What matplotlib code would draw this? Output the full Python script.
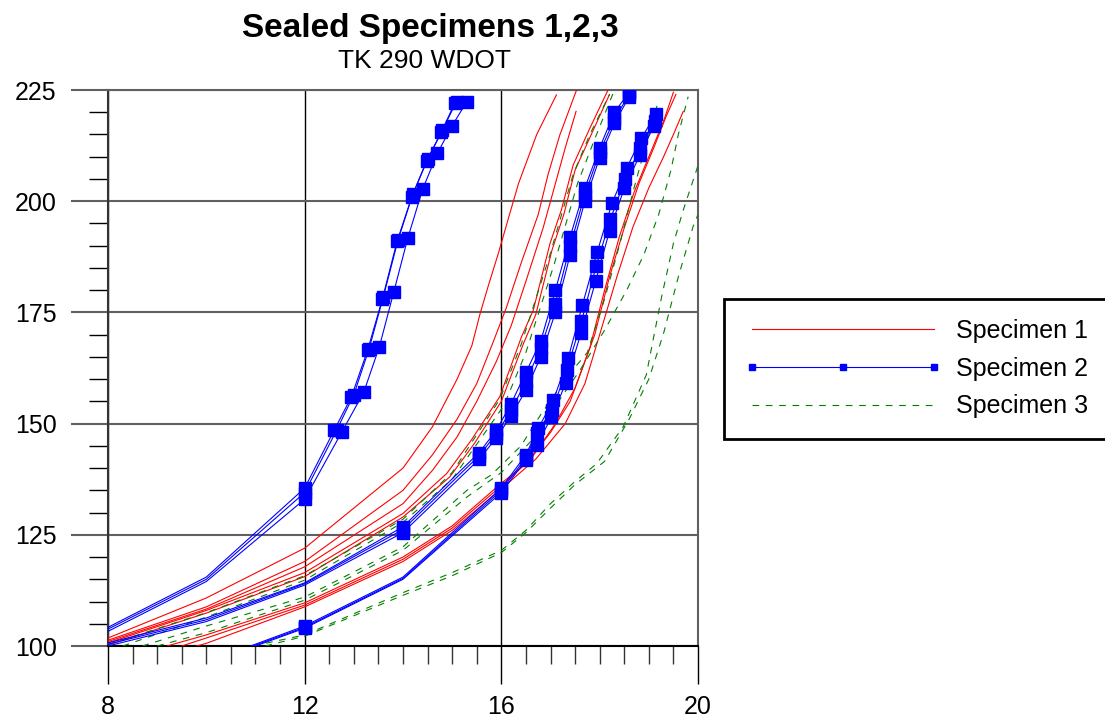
import numpy as np
import matplotlib
matplotlib.use("Agg")
import matplotlib.pyplot as plt

plt.rcParams['font.family'] = ['Liberation Sans', 'DejaVu Sans']

title = "Sealed Specimens 1,2,3"
subtitle = "TK 290 WDOT"
labels = ["Specimen 1", "Specimen 2", "Specimen 3"]

# Specimen 1 (red)
r1_x = [8, 10, 12, 14, 14.6, 15.1, 15.4, 15.57, 15.73, 15.94, 16.14, 16.35, 16.72, 17.12]
r1_y = [101.8, 110.8, 122, 140, 149.3, 160, 167.5, 174.8, 180.8, 188.3, 196, 204, 215, 223.9]
r2_x = [8, 10, 12, 14, 14.6, 15.1, 15.5, 15.85, 16.1, 16.4, 16.75, 16.95, 17.19, 17.53]
r2_y = [101.3, 108.8, 119, 135, 143, 151, 159, 168.8, 176, 186, 197, 206, 214.9, 225]
r3_x = [8, 10, 12, 14, 14.6, 15.1, 15.5, 15.9, 16.2, 16.5, 16.85, 17.1, 17.3, 17.52]
r3_y = [101.0, 108.3, 117.8, 132, 139.5, 147, 155, 164, 172, 182, 194, 204, 212, 220.2]
r4_x = [8, 10, 12, 14, 14.89, 15.39, 15.97, 16.41, 16.65, 16.99, 17.22, 17.46, 17.8, 18.17]
r4_y = [100.7, 108, 116.5, 129.8, 138.8, 146.3, 156.1, 169.5, 175.5, 190.5, 198, 208.1, 216.4, 225]
r5_x = [8, 10, 12, 14, 14.95, 15.45, 16.0, 16.45, 16.7, 17.03, 17.27, 17.5, 17.85, 18.2]
r5_y = [100.2, 107.4, 115.6, 129, 138, 145.5, 155, 168, 174.5, 189, 197, 207, 215.5, 224]
r6_x = [9.2, 10, 12, 14, 15, 16, 16.5, 17.0, 17.4, 17.8, 18.1, 18.4, 18.7, 19.0, 19.3, 19.5]
r6_y = [100, 102.5, 109.7, 120, 127, 136.6, 141, 148, 155, 167, 180, 192, 202, 210, 218, 224.5]
r7_x = [9.5, 10, 12, 14, 15, 16, 16.6, 17.1, 17.5, 17.9, 18.2, 18.5, 18.8, 19.1, 19.35, 19.55]
r7_y = [100, 101.8, 109.2, 119.5, 126.5, 136, 142, 150, 158, 170, 183, 194, 204, 212, 219, 224]
r8_x = [9.8, 10, 12, 14, 15, 16, 16.7, 17.3, 17.7, 18.0, 18.35, 18.68, 19.0, 19.3, 19.5, 19.7]
r8_y = [100, 100.6, 108.8, 119, 126, 135.3, 142, 150, 159, 170, 183, 194.3, 203, 210, 215, 220.2]

# Specimen 2 (blue, square markers)
a1_x = [8, 10, 12, 12.6, 12.95, 13.28, 13.58, 13.88, 14.18, 14.48, 14.78, 15.05]
a1_y = [104.2, 115.5, 135.5, 148.5, 156, 166.5, 178, 191, 201, 209, 215.5, 222]
a2_x = [8, 10, 12, 12.65, 13.0, 13.31, 13.6, 13.9, 14.2, 14.5, 14.8, 15.09]
a2_y = [103.8, 115, 134.5, 148.5, 156.5, 166.8, 178.5, 191.3, 201.6, 209.4, 216, 222.4]
a3_x = [8, 10, 12, 12.75, 13.2, 13.52, 13.81, 14.1, 14.4, 14.7, 15.0, 15.3]
a3_y = [103.3, 114.5, 133, 148, 157, 167.3, 179.5, 191.8, 202.7, 210.8, 217, 222.4]
b_x = [8, 10, 12, 14, 15.55, 15.9, 16.2, 16.5, 16.8, 17.1, 17.4, 17.7, 18.0, 18.3, 18.6]
b1_y = [100.7, 106.3, 114.2, 126.8, 143.5, 148.5, 154.5, 161.5, 168.5, 180, 192, 203, 212, 220, 224.5]
b2_y = [100.4, 105.9, 114, 126.2, 142.8, 147.7, 153, 159.5, 167, 177, 190, 201.5, 211, 218.5, 224]
b3_y = [100, 105.5, 113.7, 125.5, 142, 146.8, 151.8, 157.5, 165, 175, 188, 200, 209.8, 217.5, 223.5]
c1_x = [10.9, 12, 14, 16, 16.5, 16.75, 17.06, 17.36, 17.65, 17.95, 18.25, 18.55, 18.85, 19.15]
c1_y = [100, 104.5, 115.5, 135.5, 143, 148.9, 155.3, 164.7, 176.7, 188.6, 199.5, 207.5, 214.2, 219.7]
c2_x = [10.95, 12, 14, 16, 16.5, 16.72, 17.03, 17.33, 17.63, 17.93, 18.22, 18.52, 18.83, 19.12]
c2_y = [100, 104.2, 115.2, 135, 142.3, 147.8, 153, 162, 173, 185.5, 196, 205, 212, 218]
c3_x = [11.0, 12, 14, 16, 16.5, 16.72, 17.02, 17.31, 17.62, 17.92, 18.2, 18.5, 18.82, 19.1]
c3_y = [100, 104, 115, 134.5, 141.8, 145.2, 151.4, 159.1, 170.3, 182.1, 193.3, 202.9, 210.4, 216.9]

# Specimen 3 (green dashed)
g1_x = [8, 10, 12, 14, 15, 15.97, 16.41, 16.99, 17.46, 17.8, 18.2]
g1_y = [100.3, 107.5, 115.8, 128.5, 139, 155.5, 168, 188, 206, 215, 224]
g2_x = [8.3, 10, 12, 14, 15, 16.05, 16.5, 17.08, 17.55, 17.9, 18.3]
g2_y = [100, 106.5, 114.8, 127.8, 137.5, 154, 166, 186, 204, 214, 225]
g3_x = [8.7, 10, 12, 14, 15.3, 15.8, 16.4, 16.8, 17.3, 17.75, 18.1, 18.4, 18.7, 18.95, 19.2]
g3_y = [100, 104.5, 111, 122.3, 135, 138.5, 145, 152, 160, 166, 178, 190, 203, 213, 222.7]
g4_x = [9.0, 10, 12, 14, 15.3, 16.0, 16.6, 17.1, 17.6, 18.1, 18.55, 18.9, 19.2, 19.45, 19.6, 19.8]
g4_y = [100, 103, 110.3, 121.5, 133.5, 139, 146, 154, 162, 171, 180, 188, 197, 207, 215, 223.5]
g5_x = [10.95, 12, 14, 15, 16, 16.5, 17, 17.5, 17.94, 18.48, 18.75, 18.95, 19.09, 19.26, 19.5, 19.7, 20.0]
g5_y = [100, 102.5, 112, 116.5, 121.5, 126, 132, 137, 141, 149.3, 156, 161, 169, 178.5, 190.5, 198, 208]
g6_x = [11.2, 12, 14, 15, 16, 16.5, 17, 17.5, 18.1, 18.6, 19.0, 19.3, 19.6, 19.9, 20.0]
g6_y = [100, 102.2, 111.4, 115.8, 121, 125.5, 131, 136.3, 141.5, 151, 160, 170.3, 183, 194.3, 197]

spec1 = [(r1_x, r1_y), (r2_x, r2_y), (r3_x, r3_y), (r4_x, r4_y),
         (r5_x, r5_y), (r6_x, r6_y), (r7_x, r7_y), (r8_x, r8_y)]
spec2 = [(a1_x, a1_y, 2), (a2_x, a2_y, 2), (a3_x, a3_y, 2),
         (b_x, b1_y, 3), (b_x, b2_y, 3), (b_x, b3_y, 3),
         (c1_x, c1_y, 3), (c2_x, c2_y, 3), (c3_x, c3_y, 3)]
spec3 = [(g1_x, g1_y), (g2_x, g2_y), (g3_x, g3_y),
         (g4_x, g4_y), (g5_x, g5_y), (g6_x, g6_y)]

fig = plt.figure(figsize=(11.05, 7.19), dpi=100)
ax = fig.add_axes([108/1105, 1 - 646/719, 590/1105, 556/719])

red, blue, green = '#ff0000', '#0000ff', '#008000'

for x, y in spec1:
    h1, = ax.plot(x, y, color=red, lw=0.8, zorder=3)
for x, y, start in spec2:
    # the right-hand group also has a marker at x=12
    marks = [1] + list(range(start, len(x))) if x[0] > 10 else list(range(start, len(x)))
    h2, = ax.plot(x, y, color=blue, lw=0.8, marker='s', ms=8, markevery=marks, zorder=4)
for x, y in spec3:
    h3, = ax.plot(x, y, color=green, lw=0.8, ls=(0, (6, 6)), zorder=3)

ax.set_xlim(8, 20)
ax.set_ylim(100, 225)
ax.set_xticks([8, 12, 16, 20])
ax.set_xticks(np.arange(8, 20.01, 0.5), minor=True)
ax.set_yticks(np.arange(100, 226, 25))
ax.set_yticks(np.arange(100, 226, 5), minor=True)
ax.tick_params(axis='both', which='major', labelsize=18, direction='out')
ax.tick_params(axis='x', which='major', length=27, width=1, color='black', pad=8)
ax.tick_params(axis='y', which='major', length=27, width=1.5, color='#606060', pad=10)
ax.tick_params(axis='x', which='minor', length=13, width=1, color='#333333')
ax.tick_params(axis='y', which='minor', length=14, width=1, color='black')

ax.set_axisbelow(True)
ax.grid(True, axis='y', which='major', color='#606060', lw=1.5)
ax.grid(True, axis='x', which='major', color='black', lw=1)
ax.spines['left'].set_color('#333333')
ax.spines['bottom'].set_color('black')
ax.spines['top'].set_color('#606060')
ax.spines['right'].set_color('#606060')
for s in ax.spines.values():
    s.set_linewidth(1.5)

fig.text(430/1105, 1 - 28/719, title, ha='center', va='center', fontsize=24, fontweight='bold')
fig.text(425/1105, 1 - 61/719, subtitle, ha='center', va='center', fontsize=19)

leg = fig.legend([h1, h2, h3], labels, loc='upper left',
                 bbox_to_anchor=(724/1105, 1 - 299/719), borderaxespad=0,
                 fontsize=18, handlelength=7.9, handletextpad=0.6, labelspacing=0.55,
                 borderpad=0.8, numpoints=3, markerscale=0.6,
                 fancybox=False, framealpha=1, edgecolor='black')
leg.get_frame().set_linewidth(2)

fig.savefig('out.png', dpi=100)
